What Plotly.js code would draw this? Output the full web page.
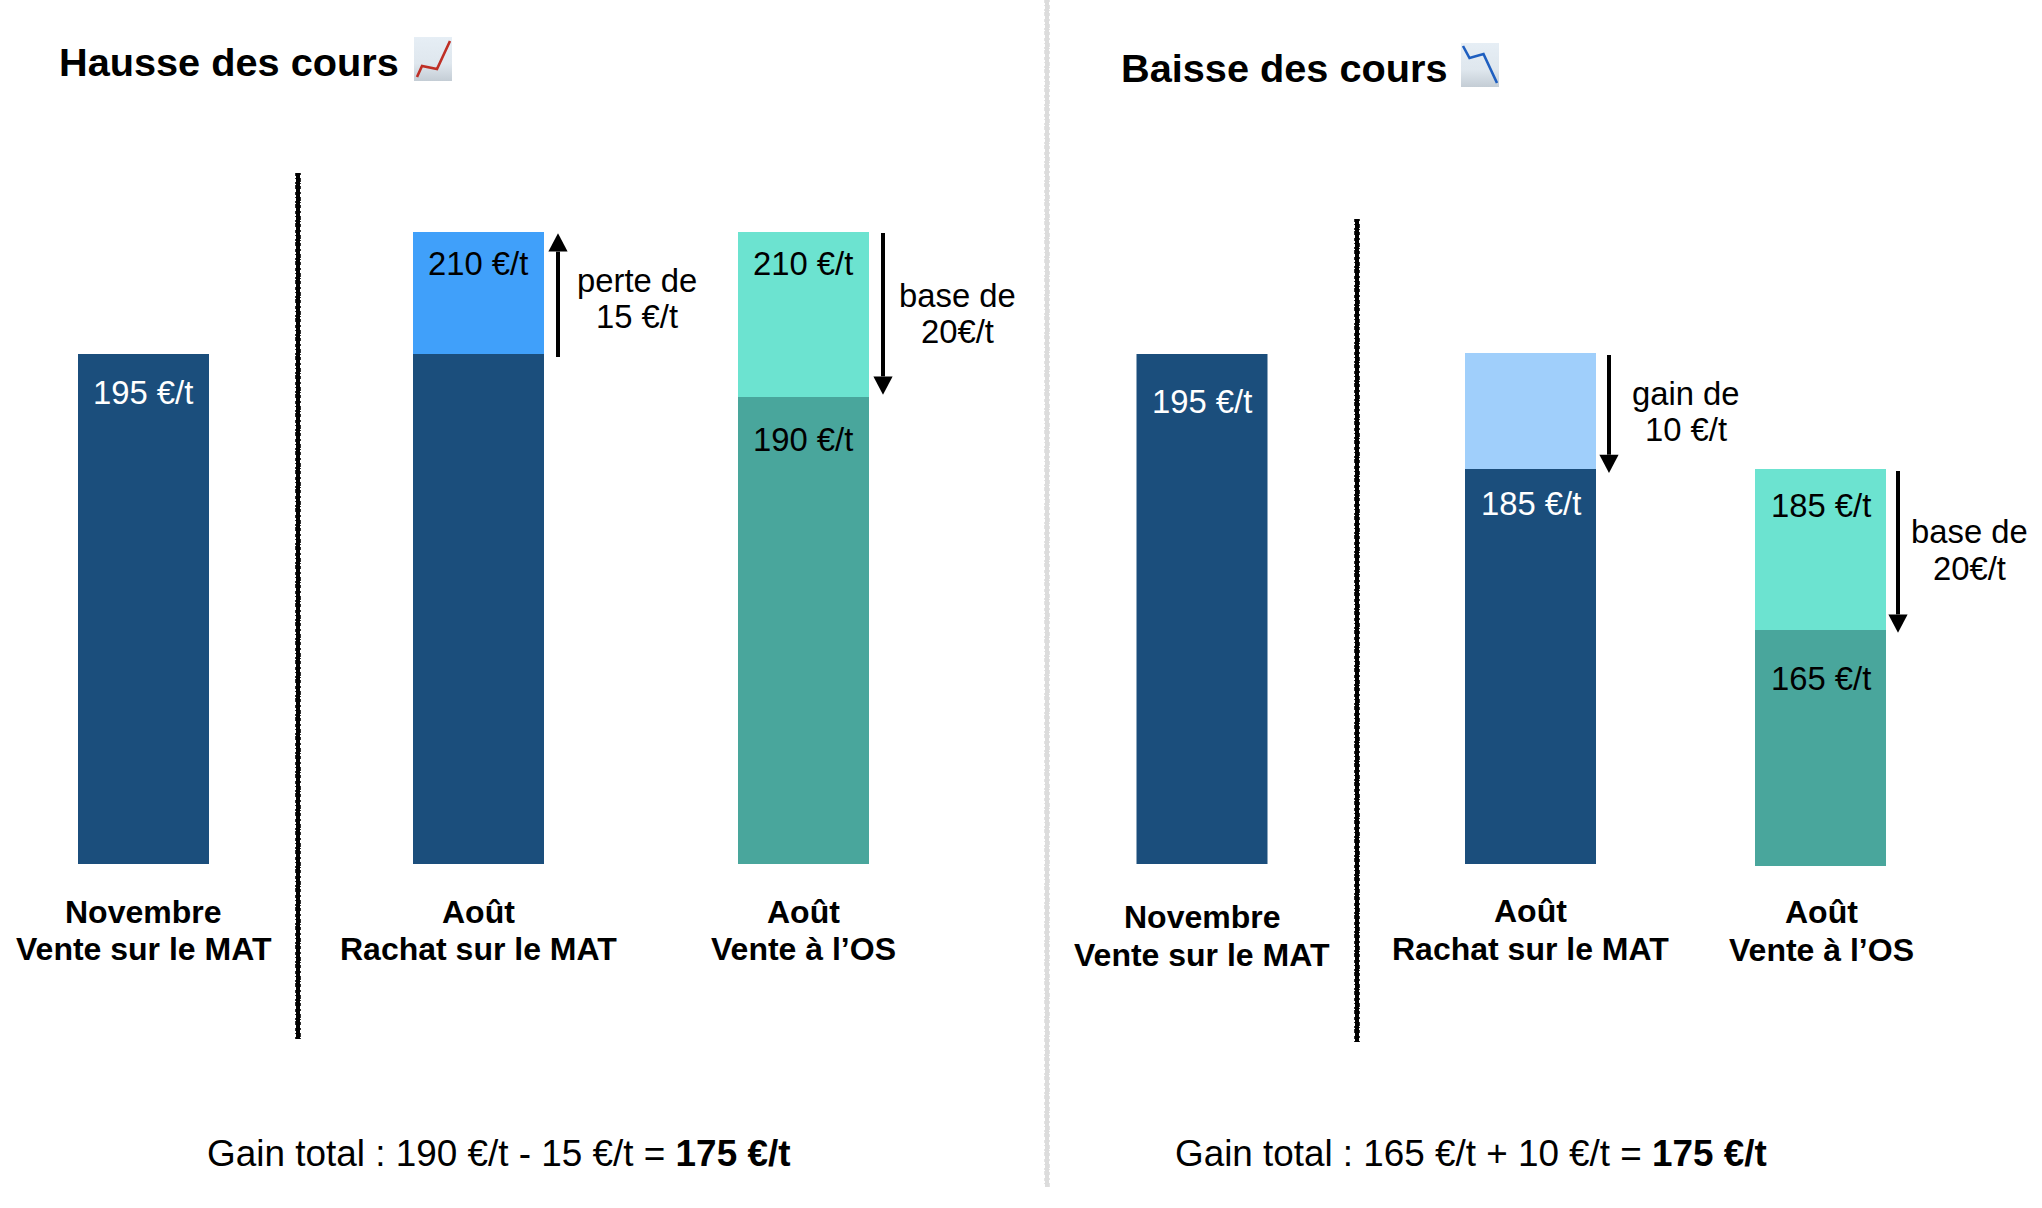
<!DOCTYPE html>
<html>
<head>
<meta charset="utf-8">
<script src="https://cdn.plot.ly/plotly-3.0.1.min.js"></script>
<style>html,body{margin:0;padding:0;background:#fff}#chart{width:2042px;height:1208px}</style>
</head>
<body>
<div id="chart"></div>
<script>
// ---------- data ----------
const hausseLabels = [["Novembre","Vente sur le MAT"],["Août","Rachat sur le MAT"],["Août","Vente à l’OS"]];
const baisseLabels = [["Novembre","Vente sur le MAT"],["Août","Rachat sur le MAT"],["Août","Vente à l’OS"]];
const hausseLower = [195,195,190];
const hausseUpper = [0,15,20];
const baisseLower = [195,185,165];
const baisseUpper = [0,10,20];
const titles = ["Hausse des cours","Baisse des cours"];
const totals = ["Gain total : 190 €/t - 15 €/t = <b>175 €/t</b>","Gain total : 165 €/t + 10 €/t = <b>175 €/t</b>"];

// ---------- page geometry (pixels of the 2042x1208 page) ----------
const W=2042,H=1208;
const px=x=>x/W, py=y=>1-y/H;
const DARK="#1b4e7c",BLUE="#40a0fa",PALE="#a0cffb",TEAL="#6ce3d0",DTEAL="#49a69c";
const FONT='"Liberation Sans",Arial,Helvetica,sans-serif';

// The source picture is schematic: each bar keeps its own scale, fixed by two pixel anchors.
function axis(vA,pA,vB,pB,bottom){
  const s=(pB-pA)/(vA-vB), val=p=>vA+(pA-p)/s;
  return {visible:false,fixedrange:true,range:[val(bottom),val(0)],domain:[py(bottom),1],anchor:'x',showgrid:false,zeroline:false};
}
const axes={
  yaxis :axis(210,232,195,354,864),
  yaxis2:axis(210,232,190,397,864),
  yaxis3:axis(195,353,185,469,864),
  yaxis4:axis(185,469,165,630,866)
};
const bars=[
 {x:143.5, ya:'y', lo:hausseLower[0],up:hausseUpper[0],c:DARK, cu:BLUE},
 {x:478.5, ya:'y', lo:hausseLower[1],up:hausseUpper[1],c:DARK, cu:BLUE},
 {x:803.5, ya:'y2',lo:hausseLower[2],up:hausseUpper[2],c:DTEAL,cu:TEAL},
 {x:1202,  ya:'y', lo:baisseLower[0],up:baisseUpper[0],c:DARK, cu:PALE},
 {x:1530.5,ya:'y3',lo:baisseLower[1],up:baisseUpper[1],c:DARK, cu:PALE},
 {x:1820.5,ya:'y4',lo:baisseLower[2],up:baisseUpper[2],c:DTEAL,cu:TEAL}
];
const traces=[];
bars.forEach(b=>{
  traces.push({type:'bar',x:[b.x],y:[b.lo],width:[131],yaxis:b.ya,marker:{color:b.c,line:{width:0}},hoverinfo:'skip',showlegend:false});
  if(b.up) traces.push({type:'bar',x:[b.x],y:[b.up],base:[b.lo],width:[131],yaxis:b.ya,marker:{color:b.cu,line:{width:0}},hoverinfo:'skip',showlegend:false});
});

// ---------- text ----------
const anns=[];
function T(x,base,text,size,color,anchor){
  anns.push({xref:'paper',yref:'paper',x:px(x),y:py(base-0.3465*size),text:text,showarrow:false,
    xanchor:anchor||'center',yanchor:'middle',borderpad:0,borderwidth:0,
    font:{family:FONT,size:size,color:color||'#000'}});
}
T(58.5,75.5,'<b>'+titles[0]+'</b>',39.7,'#000','left');
T(1121,81.5,'<b>'+titles[1]+'</b>',39.7,'#000','left');

const V=32.8,L=32;
T(143,404,hausseLower[0]+' €/t',V,'#fff');
T(478,275,(hausseLower[1]+hausseUpper[1])+' €/t',V);
T(803,275,(hausseLower[2]+hausseUpper[2])+' €/t',V);
T(803,451,hausseLower[2]+' €/t',V);
T(1202,413,baisseLower[0]+' €/t',V,'#fff');
T(1531,515,baisseLower[1]+' €/t',V,'#fff');
T(1821,517,(baisseLower[2]+baisseUpper[2])+' €/t',V);
T(1821,690,baisseLower[2]+' €/t',V);

T(636.5,292,'perte de',V); T(636.5,328,hausseUpper[1]+' €/t',V);
T(957,306.5,'base de',V);  T(957,343,hausseUpper[2]+'€/t',V);
T(1686,404.5,'gain de',V); T(1686,441,baisseUpper[1]+' €/t',V);
T(1969,543,'base de',V); T(1969,580,baisseUpper[2]+'€/t',V);

[[143.5,923,960.5],[478.5,923,960.5],[803.5,923,960.5]].forEach((p,i)=>{
  T(p[0],p[1],'<b>'+hausseLabels[i][0]+'</b>',L); T(p[0],p[2],'<b>'+hausseLabels[i][1]+'</b>',L);
});
[[1202,928.5,966],[1530,922,960],[1821,923,961]].forEach((p,i)=>{
  T(p[0],p[1],'<b>'+baisseLabels[i][0]+'</b>',L); T(p[0],p[2],'<b>'+baisseLabels[i][1]+'</b>',L);
});
T(498.5,1166,totals[0],36.9);
T(1471,1166,totals[1],36.85);

// ---------- separators & arrows ----------
const shapes=[];
function rough(x,y0,y1,color,core){
  const seg=(dx,w,dash)=>shapes.push({type:'line',xref:'paper',yref:'paper',x0:px(x+dx),x1:px(x+dx),y0:py(y0),y1:py(y1),line:{color:color,width:w,dash:dash}});
  seg(0,core,'solid');
  seg(-1.3,3,'3px,2px,1px,3px,2px,1px,4px,3px');
  seg(1.3,3,'2px,3px,4px,1px,1px,2px,3px,3px');
}
rough(1047,0,1187,'#dcdcdc',4);
rough(298,173,1039,'#000',4);
rough(1357,219,1042,'#000',4);
function arrow(x,tail,tip){
  const dir=tip>tail?1:-1, neck=tip-dir*18.3;
  shapes.push({type:'line',xref:'paper',yref:'paper',x0:px(x),x1:px(x),y0:py(tail),y1:py(neck),line:{color:'#000',width:4}});
  shapes.push({type:'path',xref:'paper',yref:'paper',fillcolor:'#000',line:{width:0},
    path:`M ${px(x-9.6)} ${py(neck)} L ${px(x+9.6)} ${py(neck)} L ${px(x)} ${py(tip)} Z`});
}
arrow(558,357,233.3);
arrow(883,233,394.7);
arrow(1609,355,473);
arrow(1898,471,632.7);

// ---------- chart icons of the two headings ----------
function icon(stroke,points){
  const svg=`<svg xmlns="http://www.w3.org/2000/svg" width="38" height="44" viewBox="0 0 38 44"><defs><linearGradient id="g" x1="0" y1="0" x2="0" y2="1"><stop offset="0" stop-color="#e6eef5"/><stop offset="0.6" stop-color="#dfe7ee"/><stop offset="1" stop-color="#c4cdd5"/></linearGradient></defs><rect width="38" height="44" fill="url(#g)"/><polyline points="${points}" fill="none" stroke="${stroke}" stroke-width="2.6"/></svg>`;
  return 'data:image/svg+xml;base64,'+btoa(svg);
}
const images=[
 {source:icon('#bf2f25','3,40 8,29 23,32 36,4'),xref:'paper',yref:'paper',x:px(414),y:py(37),sizex:38/W,sizey:44/H,sizing:'stretch',xanchor:'left',yanchor:'top',layer:'above'},
 {source:icon('#1f5fc0','2,3 8.5,15 22.5,11 36,40'),xref:'paper',yref:'paper',x:px(1461),y:py(43),sizex:38/W,sizey:44/H,sizing:'stretch',xanchor:'left',yanchor:'top',layer:'above'}
];

const layout=Object.assign({
  width:W,height:H,autosize:false,margin:{l:0,r:0,t:0,b:0,pad:0},
  paper_bgcolor:'#fff',plot_bgcolor:'rgba(0,0,0,0)',barmode:'overlay',showlegend:false,
  font:{family:FONT},
  xaxis:{visible:false,fixedrange:true,range:[0,W],domain:[0,1],type:'linear',showgrid:false,zeroline:false},
  annotations:anns,shapes:shapes,images:images
},axes);
Plotly.newPlot('chart',traces,layout,{displayModeBar:false,staticPlot:true});
</script>
</body>
</html>
